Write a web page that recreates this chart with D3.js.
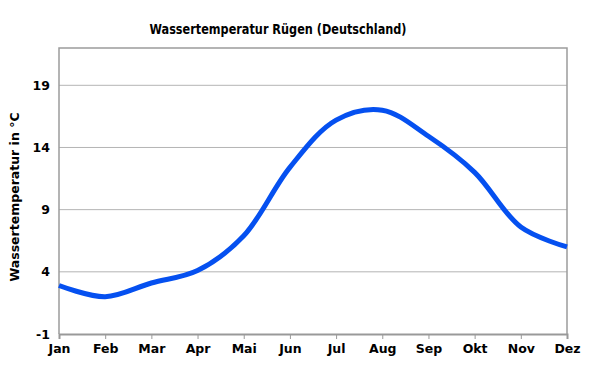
<!DOCTYPE html>
<html>
<head>
<meta charset="utf-8">
<script src="https://cdn.jsdelivr.net/npm/d3@7"></script>
<style>
  body { margin: 0; background: #fff; }
  text { font-family: "DejaVu Sans", Verdana, sans-serif; font-weight: bold; fill: #000; }
</style>
</head>
<body>
<div id="chart"></div>
<script>
const months = ["Jan","Feb","Mar","Apr","Mai","Jun","Jul","Aug","Sep","Okt","Nov","Dez"];
const temps = [2.9, 2.0, 3.1, 4.1, 6.9, 12.4, 16.2, 17.0, 14.9, 12.0, 7.6, 6.0];
const yTicks = [-1, 4, 9, 14, 19];

const width = 589;
const height = 372;
const margin = {top: 48, right: 22, bottom: 38, left: 59};

const svg = d3.select("#chart")
  .append("svg")
  .attr("width", width)
  .attr("height", height);

const x = d3.scalePoint()
  .domain(months)
  .range([margin.left, width - margin.right]);

const y = d3.scaleLinear()
  .domain([-1, 22])
  .range([height - margin.bottom, margin.top]);

// grid lines
svg.append("g")
  .selectAll("line")
  .data(yTicks.slice(1))
  .enter()
  .append("line")
  .attr("x1", margin.left)
  .attr("x2", width - margin.right)
  .attr("y1", d => y(d))
  .attr("y2", d => y(d))
  .style("stroke", "#b4b4b4")
  .style("stroke-width", 1);

// frame
svg.append("path")
  .attr("d", `M${margin.left},${height - margin.bottom}V${margin.top}H${width - margin.right}V${height - margin.bottom}`)
  .style("fill", "none")
  .style("stroke", "#9c9c9c")
  .style("stroke-width", 1.5);

// x axis
const xAxis = svg.append("g")
  .attr("transform", `translate(0,${height - margin.bottom})`)
  .call(d3.axisBottom(x).tickSize(5).tickPadding(5));
xAxis.select(".domain").style("stroke", "#999").style("stroke-width", 2);
xAxis.selectAll(".tick line").style("stroke", "#999");
xAxis.selectAll("text").style("font-size", "12.5px");

// y axis
const yAxis = svg.append("g")
  .attr("transform", `translate(${margin.left},0)`)
  .call(d3.axisLeft(y).tickValues(yTicks).tickFormat(d => String(d)).tickSize(0).tickPadding(9));
yAxis.select(".domain").remove();
yAxis.selectAll("text").style("font-size", "12.5px");

// curve
const line = d3.line()
  .x((d, i) => x(months[i]))
  .y(d => y(d))
  .curve(d3.curveCatmullRom.alpha(0.5));

svg.append("path")
  .datum(temps)
  .attr("d", line)
  .style("fill", "none")
  .style("stroke", "#0550f0")
  .style("stroke-width", 5)
  .style("stroke-linecap", "butt");

// title
svg.append("text")
  .attr("x", 278)
  .attr("y", 34)
  .attr("text-anchor", "middle")
  .attr("textLength", 257)
  .attr("lengthAdjust", "spacingAndGlyphs")
  .style("font-size", "13.5px")
  .text("Wassertemperatur Rügen (Deutschland)");

// y label
svg.append("text")
  .attr("transform", `translate(19,${(margin.top + height - margin.bottom) / 2 + 6}) rotate(-90)`)
  .attr("text-anchor", "middle")
  .style("font-size", "12.5px")
  .text("Wassertemperatur in °C");
</script>
</body>
</html>
